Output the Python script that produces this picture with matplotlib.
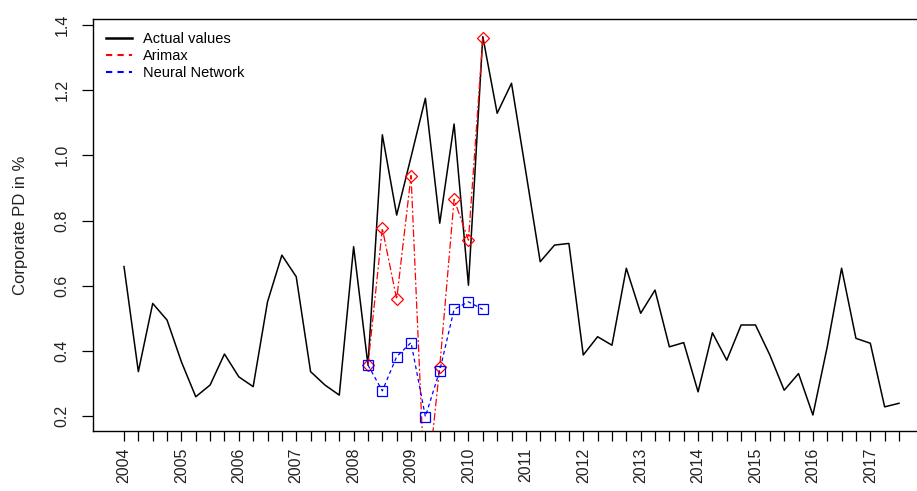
import matplotlib
matplotlib.use("Agg")
import matplotlib.pyplot as plt
from matplotlib.lines import Line2D
import numpy as np

plt.rcParams['font.family'] = ['Liberation Sans', 'DejaVu Sans']

# Quarterly corporate PD, 2004 Q1 - 2017 Q3
start_year = 2004
actual = [0.659, 0.337, 0.546, 0.495, 0.367, 0.260, 0.296, 0.391, 0.321, 0.291,
          0.551, 0.694, 0.628, 0.337, 0.296, 0.265, 0.720, 0.357, 1.063, 0.817,
          0.995, 1.175, 0.792, 1.096, 0.602, 1.364, 1.129, 1.221, 0.949, 0.674,
          0.725, 0.730, 0.388, 0.444, 0.418, 0.654, 0.516, 0.587, 0.413, 0.426,
          0.275, 0.456, 0.372, 0.480, 0.480, 0.388, 0.280, 0.331, 0.204, 0.413,
          0.654, 0.439, 0.424, 0.229, 0.240]

# forecasts start at 2008 Q2
forecast_start = 17
arimax = [0.357, 0.776, 0.559, 0.938, -0.07, 0.352, 0.865, 0.740, 1.359]
neural = [0.357, 0.278, 0.383, 0.426, 0.199, 0.340, 0.528, 0.551, 0.528]

x = np.arange(len(actual))
xf = np.arange(forecast_start, forecast_start + len(arimax))
tick_labels = [str(start_year + i // 4) if i % 4 == 0 else '' for i in x]

fig = plt.figure(figsize=(9.17, 4.91), dpi=100)
ax = fig.add_axes([93 / 917, 60 / 491, 837 / 917, 412 / 491])

ax.plot(x, actual, color='black', lw=1.1)
ax.plot(xf, arimax, color='red', lw=0.9, ls=(0, (6, 2, 1.5, 2)),
        marker='D', markersize=6, markerfacecolor='none', markeredgecolor='red',
        markeredgewidth=0.9)
ax.plot(xf, neural, color='blue', lw=0.9, ls=(0, (3, 2.5)),
        marker='s', markersize=7, markerfacecolor='none', markeredgecolor='blue',
        markeredgewidth=0.9)

ax.set_xlim(-2.16, 56.16)
ax.set_ylim(0.155, 1.418)
ax.set_xticks(x)
ax.set_xticklabels(tick_labels, rotation=90, fontsize=11.5, color='#222222')
ax.set_yticks([0.2, 0.4, 0.6, 0.8, 1.0, 1.2, 1.4])
ax.set_yticklabels(['0.2', '0.4', '0.6', '0.8', '1.0', '1.2', '1.4'],
                   rotation=90, va='center', fontsize=11.5, color='#222222')
ax.tick_params(axis='x', length=7, width=0.9, pad=5)
ax.tick_params(axis='y', length=8, width=0.9, pad=9)
ax.set_ylabel('Corporate PD in %', fontsize=12, labelpad=19, color='#222222')
for s in ax.spines.values():
    s.set_linewidth(1.0)

handles = [Line2D([], [], color='black', lw=1.8),
           Line2D([], [], color='red', lw=1.5, ls=(0, (3, 2.5))),
           Line2D([], [], color='blue', lw=1.5, ls=(0, (3, 2.5)))]
ax.legend(handles, ['Actual values', 'Arimax', 'Neural Network'],
          loc='upper left', bbox_to_anchor=(0.0, 1.0), frameon=False,
          fontsize=10.5, handlelength=1.8, handletextpad=0.75,
          labelspacing=0.2, borderaxespad=0.5)

fig.savefig('out.png', dpi=100)
